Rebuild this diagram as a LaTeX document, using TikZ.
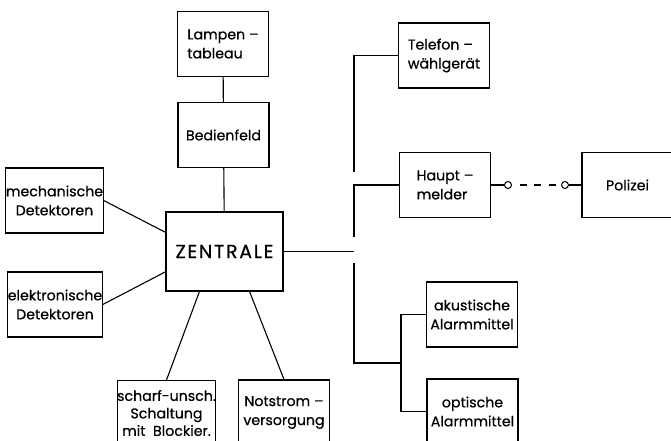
\documentclass[tikz,border=0pt]{standalone}
\usepackage{fontspec}
\setmainfont{Poppins}[FakeBold=0.5]
\tikzset{   block/.style = {rectangle, draw = black, line width = 1.1pt, fill = white, minimum width = 91pt, minimum height = 65pt, inner sep = 0pt, align = center, font = \fontsize{14.2}{19}\selectfont},
            central/.style = {rectangle, draw = black, line width = 1.3pt, fill = white, minimum width = 117pt, minimum height = 79pt, inner sep = 0pt, font = \fontsize{19}{21}\selectfont\addfontfeatures{LetterSpace=9}},
            joint/.style = {circle, draw = black, line width = 1pt, fill = white, minimum size = 7pt, inner sep = 0pt}}

\begin{document}
\begin{tikzpicture}[x=1pt, y=-1pt]
                        \useasboundingbox (0,0) rectangle (671,441);
                        \begin{scope}[line width=1.1pt]
                        \node[block, align=left] (lampen) at (223,44) {Lampen –\\tableau};
                        \node[block] (bedien) at (223.5,135) {Bedienfeld};
                        \node[central] (zentrale) at (224.5,251.5) {ZENTRALE};
                        \node[block] (mech) at (54.5,200.5) {mechanische\\Detektoren};
                        \node[block] (elek) at (55,304.5) {elektronische\\Detektoren};
                        \node[block, font=\fontsize{14.2}{17.5}\selectfont] (scharf) at (166.5,413) {scharf-unsch.\\Schaltung\\mit\ \ Blockier.};
                        \node[block] (notstrom) at (284,412.5) {Notstrom –\\versorgung};
                        \node[block, align=left] (telefon) at (444,55.5) {Telefon –\\wählgerät};
                        \node[block, align=left] (haupt) at (445,185) {Haupt –\\melder};
                        \node[block] (polizei) at (627.5,185) {Polizei};
                        \node[block] (akust) at (472,314.5) {akustische\\Alarmmittel};
                        \node[block] (opt) at (472.5,411.5) {optische\\Alarmmittel};
                        \node[joint] (k1) at (508,185) {};
                        \node[joint] (k2) at (565,185) {};
                        \coordinate (bus1) at (354,172);
                        \coordinate (bus2) at (354,237);
                        \coordinate (bus3) at (354,251.5);
                        \coordinate (bus4) at (354,263);
                        \coordinate (fork) at (401,363);
                        \draw (lampen) -- (bedien);
                        \draw (bedien) -- (zentrale);
                        \draw (mech.east) -- (zentrale.162);
                        \draw (elek.east) -- (zentrale.199);
                        \draw (zentrale.238) -- (scharf.north);
                        \draw (zentrale.302) -- (notstrom.north);
                        \draw (zentrale.east) -- (bus3);
                        \draw (telefon.west) -| (bus1);
                        \draw (haupt.west) -| (bus2);
                        \draw (bus4) |- (fork);
                        \draw (akust.west) -| (fork);
                        \draw (opt.west) -| (fork);
                        \draw (haupt.east) -- (k1);
                        \draw[dash pattern=on 7pt off 7.5pt, dash phase=7pt] (k1) -- (k2);
                        \draw (k2) -- (polizei.west);
                        \end{scope}
                      \end{tikzpicture}
\end{document}
